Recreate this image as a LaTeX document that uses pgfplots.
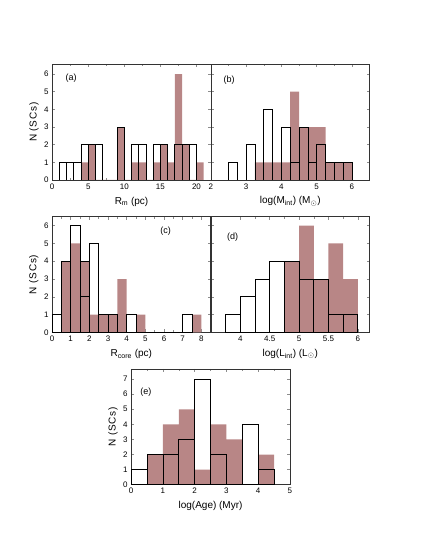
\documentclass[border=0pt]{standalone}
\usepackage{fontspec}
\setmainfont{Liberation Sans}
\usepackage{pgfplots}
\pgfplotsset{compat=1.18}
\definecolor{brownc}{RGB}{184,134,134}
\pgfplotsset{
 hp/.style={
  scale only axis, width=158.7pt, height=115.7pt,
  anchor=south west, ymin=0,
  tick align=inside,
  axis line style={black!80, line width=0.7pt},
  major tick length=3pt, minor tick length=2pt,
  every tick/.style={black!45, line width=0.5pt},
  minor x tick num=1,
  tick label style={font=\fontsize{8}{9}\selectfont},
  /pgf/number format/assume math mode=true,
  label style={font=\fontsize{9}{10}\selectfont},
  every axis x label/.style={at={(axis description cs:0.5,-0.186)},anchor=center},
  every axis y label/.style={at={(axis description cs:-0.115,0.5)},rotate=90,anchor=center,font=\fontsize{10}{11}\selectfont\addfontfeature{LetterSpace=8}},
  ytick={0,...,7},
 },
 brn/.style={ybar interval, fill=brownc, draw=none},
 opn/.style={ybar interval, fill=none, draw=black, line width=0.7pt},
}
\begin{document}
\begin{tikzpicture}
\path[use as bounding box] (0,0) rectangle (425pt,550pt);
% (a)
\begin{axis}[hp, at={(52.2pt,370pt)}, xmin=0, xmax=22, ymax=6.55,
  xtick={0,5,...,20}, xlabel={R\textsubscript{m} (pc)}, ylabel={N (SCs)}]
\addplot[brn] coordinates {(4,1)(5,2)(6,0)(9,3)(10,0)(11,1)(12,1)(13,0)(14,1)(15,2)(16,1)(17,6)(18,2)(19,0)(20,1)(21,0)};
\addplot[opn] coordinates {(1,1)(2,1)(3,1)(4,2)(5,2)(6,2)(7,0)(9,3)(10,0)(11,2)(12,2)(13,0)(14,2)(15,2)(16,0)(17,2)(18,2)(19,2)(20,0)};
\node[font=\fontsize{9}{10}\selectfont] at (axis description cs:0.12,0.88) {(a)};
\end{axis}
% (b)
\begin{axis}[hp, at={(210.9pt,370pt)}, xmin=2, xmax=6.5, ymax=6.55,
  xtick={2,...,6}, yticklabels={}, xlabel={log(M\textsubscript{int}) (M$_{\odot}$)}]
\addplot[brn] coordinates {(3.25,1)(3.5,1)(3.75,1)(4,1)(4.25,5)(4.5,3)(4.75,3)(5,3)(5.25,1)(5.5,1)(5.75,1)(6,0)};
\addplot[opn] coordinates {(2.5,1)(2.75,0)(3,2)(3.25,0)(3.5,4)(3.75,0)(4,3)(4.25,1)(4.5,3)(4.75,1)(5,2)(5.25,1)(5.5,1)(5.75,1)(6,0)};
\node[font=\fontsize{9}{10}\selectfont] at (axis description cs:0.115,0.86) {(b)};
\end{axis}
% (c)
\begin{axis}[hp, at={(52pt,217.6pt)}, xmin=0, xmax=8.5, ymax=6.5,
  xtick={0,...,8}, xlabel={R\textsubscript{core} (pc)}, ylabel={N (SCs)}]
\addplot[brn] coordinates {(0.5,4)(1,5)(1.5,4)(2,1)(2.5,1)(3,1)(3.5,3)(4,0)(4.5,1)(5,0)(7.5,1)(8,0)};
\addplot[opn] coordinates {(0,1)(0.5,4)(1,6)(1.5,4)(2,5)(2.5,1)(3,1)(3.5,0)(4,1)(4.5,0)(7,1)(7.5,0)};
\addplot[opn] coordinates {(1.5,2)(2,0)};
\node[font=\fontsize{9}{10}\selectfont] at (axis description cs:0.716,0.876) {(c)};
\end{axis}
% (d)
\begin{axis}[hp, at={(210.9pt,217.6pt)}, xmin=3.5, xmax=6.2, ymax=6.5,
  xtick={4,4.5,...,6}, yticklabels={}, xlabel={log(L\textsubscript{int}) (L$_{\odot}$)}]
\addplot[brn] coordinates {(4.75,4)(5,6)(5.25,3)(5.5,5)(5.75,3)(6,0)};
\addplot[opn] coordinates {(3.75,1)(4,2)(4.25,3)(4.5,4)(4.75,4)(5,3)(5.25,3)(5.5,1)(5.75,1)(6,0)};
\node[font=\fontsize{9}{10}\selectfont] at (axis description cs:0.137,0.82) {(d)};
\end{axis}
% (e)
\begin{axis}[hp, at={(131.2pt,65.3pt)}, xmin=0, xmax=5, ymax=7.67,
  xtick={0,...,5}, xlabel={log(Age) (Myr)}, ylabel={N (SCs)}]
\addplot[brn] coordinates {(0.5,2)(1,4)(1.5,5)(2,1)(2.5,4)(3,3)(3.5,0)(4,2)(4.5,0)};
\addplot[opn] coordinates {(0,1)(0.5,2)(1,2)(1.5,3)(2,7)(2.5,2)(3,0)(3.5,4)(4,1)(4.5,0)};
\node[font=\fontsize{9}{10}\selectfont] at (axis description cs:0.092,0.80) {(e)};
\end{axis}
\end{tikzpicture}
\end{document}
